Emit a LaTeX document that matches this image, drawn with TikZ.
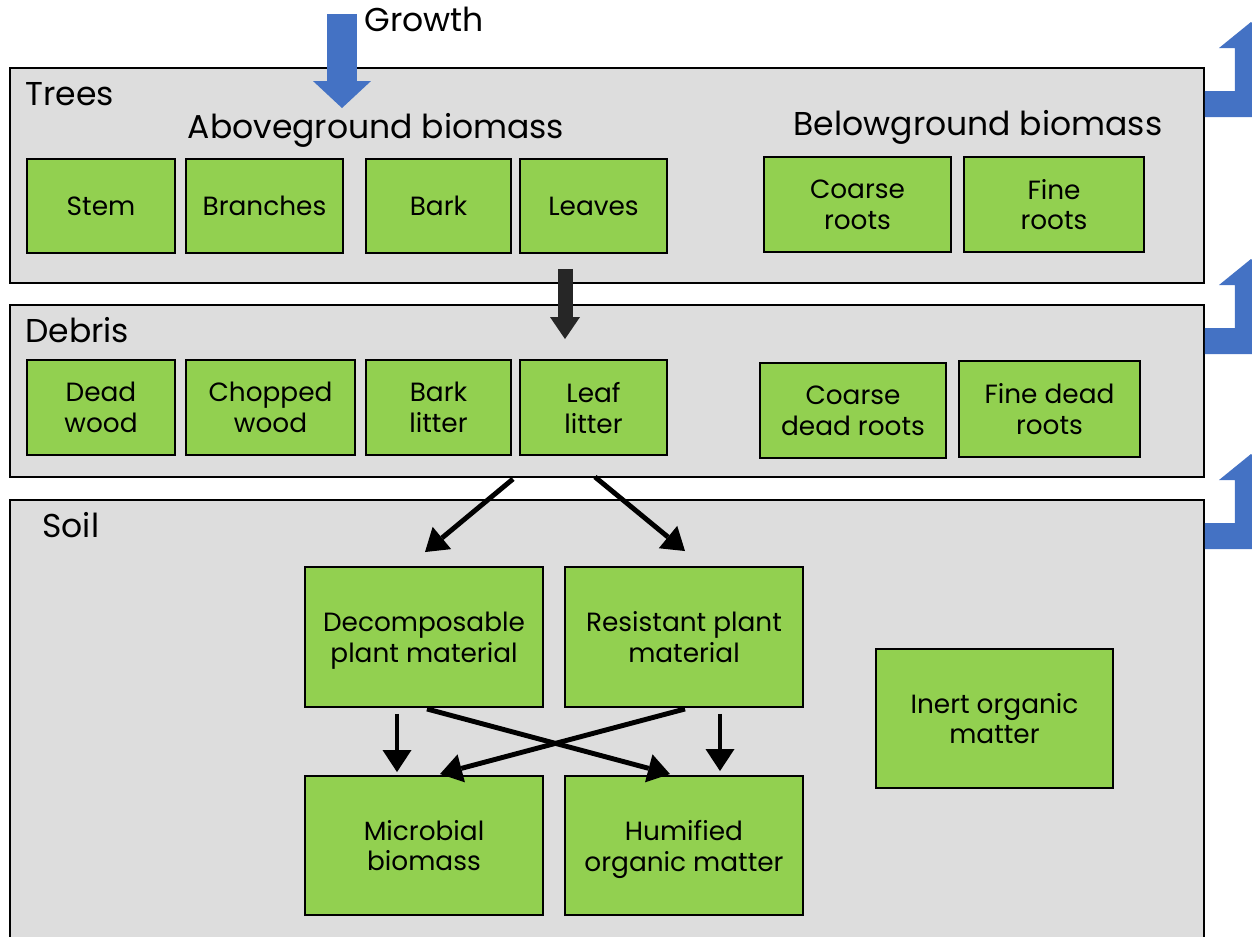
\documentclass[tikz,border=0pt]{standalone}
\usepackage{fontspec}
\setmainfont{Poppins}
\usetikzlibrary{arrows.meta,calc}

\definecolor{leafgreen}{HTML}{92D050}
\definecolor{panelgray}{HTML}{DDDDDD}
\definecolor{flowblue}{HTML}{4472C4}
\definecolor{darkflow}{HTML}{262626}

\tikzset{
    panel/.style={draw, fill=panelgray, line width=1.1pt, inner sep=0pt},
    greenbox/.style 2 args={draw, fill=leafgreen, line width=1.1pt, align=center, inner sep=0pt,
        text depth=0pt, minimum width=#1*0.02cm, minimum height=#2*0.02cm,
        font=\fontsize{15}{17.6}\selectfont},
    heading/.style={anchor=base west, inner sep=0pt, font=\fontsize{18.8}{22}\selectfont},
    flow/.style={line width=2.8pt, -{Triangle[width=0.58cm,length=0.44cm,line width=0pt]}},
}

\begin{document}
\begin{tikzpicture}[x=0.02cm, y=-0.02cm]
    \useasboundingbox (0,0) rectangle (1252,937);
    \clip (0,0) rectangle (1252,937);

    \node[panel, minimum width=1194*0.02cm, minimum height=215*0.02cm] (trees) at (607,175.5) {};
    \node[panel, minimum width=1194*0.02cm, minimum height=172*0.02cm] (debris) at (607,391) {};
    \node[panel, minimum width=1194*0.02cm, minimum height=445*0.02cm] (soil) at (607,722.5) {};

    \node[heading] (growth) at (364,31) {Growth};
    \node[heading] (treeslabel) at (25,105) {Trees};
    \node[heading, anchor=base] (abovelabel) at (376,138) {Aboveground biomass};
    \node[heading, anchor=base] (belowlabel) at (978,135) {Belowground biomass};
    \node[heading] (debrislabel) at (25,342) {Debris};
    \node[heading] (soillabel) at (42,537) {Soil};

    \node[greenbox={148}{94}] (stem) at (101,206) {Stem};
    \node[greenbox={157}{94}] (branches) at (264.5,206) {Branches};
    \node[greenbox={145}{94}] (bark) at (438.5,206) {Bark};
    \node[greenbox={147}{94}] (leaves) at (593.5,206) {Leaves};
    \node[greenbox={187}{95}] (coarse) at (857.5,204.5) {Coarse\\roots};
    \node[greenbox={180}{95}] (fine) at (1054,204.5) {Fine\\roots};

    \node[greenbox={148}{95}] (deadwood) at (101,407.5) {Dead\\wood};
    \node[greenbox={169}{95}] (chopped) at (270.5,407.5) {Chopped\\wood};
    \node[greenbox={145}{95}] (barklitter) at (438.5,407.5) {Bark\\litter};
    \node[greenbox={147}{95}] (leaflitter) at (593.5,407.5) {Leaf\\litter};
    \node[greenbox={186}{95}] (coarsedead) at (853,410.5) {Coarse\\dead roots};
    \node[greenbox={181}{96}] (finedead) at (1049.5,409) {Fine dead\\roots};

    \node[greenbox={238}{140}] (decomp) at (424,637) {Decomposable\\plant material};
    \node[greenbox={238}{140}] (resist) at (684,637) {Resistant plant\\material};
    \node[greenbox={238}{139}] (micro) at (424,845.5) {Microbial\\biomass};
    \node[greenbox={238}{139}] (humif) at (684,845.5) {Humified\\organic matter};
    \node[greenbox={237}{139}] (inert) at (994.5,718.5) {Inert organic\\matter};

    \draw[flowblue, line width=0.6cm, -{Triangle[width=1.16cm,length=0.54cm,line width=0pt]}]
        ($(growth.west)+(-22,-5)$) -- ($(trees.north)+(-265,41)$);
    \draw[darkflow, line width=0.3cm, -{Triangle[width=0.6cm,length=0.44cm,line width=0pt]}]
        ($(trees.south)+(-42,-15)$) -- ($(debris.north)+(-42,35)$);

    \draw[flow] ($(debris.south)+(-94,1)$) -- ($(decomp.north)+(1,-14)$);
    \draw[flow] ($(debris.south)+(-12,-1)$) -- ($(resist.north)+(1,-15)$);
    \draw[flow] ($(decomp.south)+(-27,6)$) -- ($(micro.north)+(-27,-3)$);
    \draw[flow] ($(decomp.south)+(3,1)$) -- ($(humif.north)+(-14,-1)$);
    \draw[flow] ($(resist.south)+(1,1)$) -- ($(micro.north)+(16,-1)$);
    \draw[flow] ($(resist.south)+(36,6)$) -- ($(humif.north)+(36,-4)$);

    \foreach \p in {trees,debris,soil}
        \fill[flowblue] ($(\p.north east)+(0,24)$) -- ++(30,0) -- ++(0,-43) -- ++(-16,0)
            -- ++(32,-26) -- ++(32,26) -- ++(-16,0) -- ++(0,69) -- ++(-62,0) -- cycle;
\end{tikzpicture}
\end{document}
